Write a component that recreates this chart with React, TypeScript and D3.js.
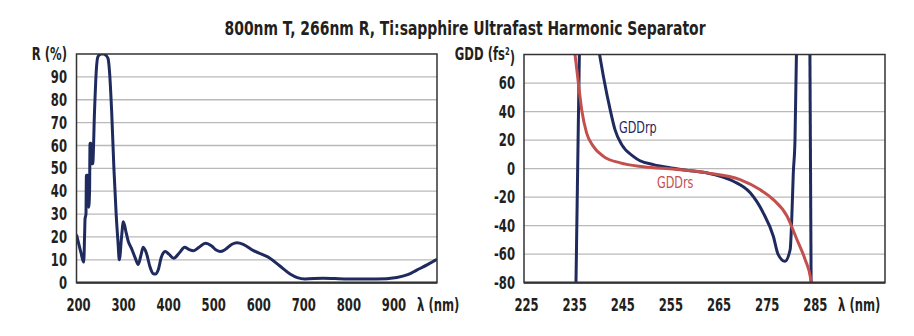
import React from "react";
import * as d3 from "d3";

// ---- Data ----
const titleText = "800nm T, 266nm R, Ti:sapphire Ultrafast Harmonic Separator";

const rWavelength = [200, 205, 210, 216, 218, 219, 221, 222, 225, 227, 229, 230, 232, 233, 236, 240, 244, 247, 250, 255, 260, 265, 270, 273, 278, 283, 288, 292, 295, 300, 304, 310, 315, 322, 330, 337, 343, 348, 355, 363, 370, 375, 382, 388, 397, 405, 416, 428, 440, 450, 460, 472, 486, 500, 510, 519, 530, 545, 556, 570, 593, 626, 650, 674, 690, 707, 747, 800, 866, 911, 935, 955, 980, 1000];
const rValues = [21, 17, 13, 9, 21, 28, 30, 47, 47, 33, 40, 61, 61, 52, 52, 75, 93, 98.5, 99.5, 100, 100, 99.5, 98, 93, 75, 50, 30, 18, 10, 20, 26.7, 22, 18, 15, 11, 8, 12, 15.5, 13, 7, 4, 3.8, 6, 11, 13.6, 12.5, 10.7, 13, 15.5, 14.5, 14, 15.5, 17.2, 16, 14.3, 13.6, 14.5, 16.8, 17.5, 16.8, 14, 11.1, 7.5, 3.8, 2.2, 1.6, 2, 1.6, 1.6, 2.3, 3.5, 5.5, 8, 10.2];

const rTicksX = [200, 300, 400, 500, 600, 700, 800, 900];
const rTicksY = [0, 10, 20, 30, 40, 50, 60, 70, 80, 90];

// GDDrp (navy) — three branches separated by poles
const rpBranchAWl = [235.8, 236.5];
const rpBranchAVal = [-80, 80];
const rpBranchBWl = [240.7, 241.5, 242.9, 243.9, 245.3, 247.7, 249.1, 251.9, 256.0, 259.5, 263.3, 268.5, 272.0, 274.7, 276.8, 277.8, 279.2, 280.3, 280.6, 280.95, 281.3, 281.6];
const rpBranchBVal = [80, 64.6, 41.3, 27.3, 16.8, 8.6, 5.5, 2.8, 0.3, -1.5, -3.2, -8.9, -17, -31, -47.4, -60.2, -65, -56.7, -38, -3, 20, 80];
const rpBranchCWl = [284.4, 284.65];
const rpBranchCVal = [80, -80];

// GDDrs (red)
const rsWavelength = [235.6, 236.3, 237.0, 238.0, 239.4, 241.5, 245.0, 249.8, 256.3, 263.0, 269.9, 274.0, 276.8, 279.6, 281.7, 283.4, 284.6, 284.7];
const rsValues = [80, 60, 41, 25, 15.6, 8.6, 4, 1.3, -0.5, -3, -7.7, -14.7, -21.7, -33, -49.7, -63.7, -77.7, -80];

const gddTicksX = [225, 235, 245, 255, 265, 275, 285];
const gddTicksY = [-80, -60, -40, -20, 0, 20, 40, 60];

// ---- Styles ----
const FONT = "'DejaVu Sans Condensed', 'DejaVu Sans', sans-serif";
const TEXT = "#231f20";
const NAVY = "#1f2a5e";
const RED = "#c4504e";
const GRID = "#b9b9b9";
const FRAME = "#333333";

type Pt = [number, number];
const zip = (a: number[], b: number[]): Pt[] => a.map((v, i) => [v, b[i]]);

function T(props: { x: number; y: number; anchor?: string; size: number; weight?: string; fill: string; dy?: string; sq?: number; children: any }) {
  const { x, y, anchor = "start", size, weight = "bold", fill, dy, sq = 0.76, children } = props;
  return (
    <text transform={`translate(${x},${y}) scale(${sq},1)`} textAnchor={anchor} fontSize={size} fontWeight={weight} fill={fill} dy={dy} fontStretch="condensed">
      {children}
    </text>
  );
}

export default function App() {
  // Left panel
  const L = { x0: 76.5, x1: 437, y0: 54, y1: 282.7 };
  const xR = d3.scaleLinear().domain([200, 1000]).range([L.x0, L.x1]);
  const yR = d3.scaleLinear().domain([0, 100]).range([L.y1, L.y0]);
  const lineR = d3.line<Pt>().x(d => xR(d[0])).y(d => yR(d[1])).curve(d3.curveMonotoneX);

  // Right panel
  const R = { x0: 524, x1: 885, y0: 54.5, y1: 282.7 };
  const xG = d3.scaleLinear().domain([225, 300]).range([R.x0, R.x1]);
  const yG = d3.scaleLinear().domain([-80, 80]).range([R.y1, R.y0]);
  const lineG = d3.line<Pt>().x(d => xG(d[0])).y(d => yG(d[1])).curve(d3.curveMonotoneX);

  const tickFont = 17;
  const xLabelY = 311;

  return (
    <svg width={914} height={336} style={{ position: "absolute", left: 0, top: 0, background: "#fff" }} fontFamily={FONT}>
      <defs>
        <clipPath id="clipL"><rect x={L.x0} y={L.y0} width={L.x1 - L.x0} height={L.y1 - L.y0} /></clipPath>
        <clipPath id="clipR"><rect x={R.x0} y={R.y0} width={R.x1 - R.x0} height={R.y1 - R.y0} /></clipPath>
      </defs>
      <T x={465} y={35} anchor="middle" size={20} sq={0.775} fill={TEXT}>{titleText}</T>

      {/* Left panel */}
      <rect x={L.x0} y={L.y0} width={L.x1 - L.x0} height={L.y1 - L.y0} fill="#fff" />
      {rTicksY.filter(t => t > 0).map(t => (
        <line key={t} x1={L.x0} x2={L.x1} y1={yR(t)} y2={yR(t)} stroke={GRID} strokeWidth={1.3} />
      ))}
      <path d={lineR(zip(rWavelength, rValues)) || ""} fill="none" stroke={NAVY} strokeWidth={3} strokeLinejoin="round" clipPath="url(#clipL)" />
      <rect x={L.x0} y={L.y0} width={L.x1 - L.x0} height={L.y1 - L.y0} fill="none" stroke={FRAME} strokeWidth={1.5} />
      <line x1={L.x0} x2={L.x1} y1={L.y1} y2={L.y1} stroke={FRAME} strokeWidth={2.2} />
      {rTicksY.map(t => (
        <T key={t} x={67} y={yR(t)} dy="0.36em" anchor="end" size={tickFont} fill={TEXT}>{t}</T>
      ))}
      {rTicksX.map(t => (
        <T key={t} x={xR(t) + 2} y={xLabelY} anchor="middle" size={tickFont} fill={TEXT}>{t}</T>
      ))}
      <T x={67} y={54} dy="0.36em" anchor="end" size={tickFont} fill={TEXT}>R (%)</T>
      <T x={417} y={xLabelY} size={tickFont} fill={TEXT}>λ (nm)</T>

      {/* Right panel */}
      <rect x={R.x0} y={R.y0} width={R.x1 - R.x0} height={R.y1 - R.y0} fill="#fff" />
      {gddTicksY.filter(t => t > -80).map(t => (
        <line key={t} x1={R.x0} x2={R.x1} y1={yG(t)} y2={yG(t)} stroke={GRID} strokeWidth={1.3} />
      ))}
      <g clipPath="url(#clipR)" fill="none" strokeLinejoin="round">
        <path d={lineG(zip(rpBranchAWl, rpBranchAVal)) || ""} stroke={NAVY} strokeWidth={3} />
        <path d={lineG(zip(rpBranchBWl, rpBranchBVal)) || ""} stroke={NAVY} strokeWidth={3} />
        <path d={lineG(zip(rpBranchCWl, rpBranchCVal)) || ""} stroke={NAVY} strokeWidth={3} />
        <path d={lineG(zip(rsWavelength, rsValues)) || ""} stroke={RED} strokeWidth={3} />
      </g>
      <rect x={R.x0} y={R.y0} width={R.x1 - R.x0} height={R.y1 - R.y0} fill="none" stroke={FRAME} strokeWidth={1.5} />
      <line x1={R.x0} x2={R.x1} y1={R.y1} y2={R.y1} stroke={FRAME} strokeWidth={2.2} />
      {gddTicksY.map(t => (
        <T key={t} x={515} y={yG(t)} dy="0.36em" anchor="end" size={tickFont} fill={TEXT}>{t}</T>
      ))}
      {gddTicksX.map(t => (
        <T key={t} x={xG(t) + 2.5} y={xLabelY} anchor="middle" size={tickFont} fill={TEXT}>{t}</T>
      ))}
      <T x={515} y={54} dy="0.36em" anchor="end" size={tickFont} fill={TEXT}>
        GDD (fs<tspan fontSize={10} dy="-0.5em">2</tspan><tspan dy="0.5em">)</tspan>
      </T>
      <T x={838} y={xLabelY} size={tickFont} fill={TEXT}>λ (nm)</T>

      <T x={619} y={133} size={16} weight="normal" sq={0.78} fill={NAVY}>GDDrp</T>
      <T x={657} y={188} size={16} weight="normal" sq={0.78} fill={RED}>GDDrs</T>
    </svg>
  );
}
